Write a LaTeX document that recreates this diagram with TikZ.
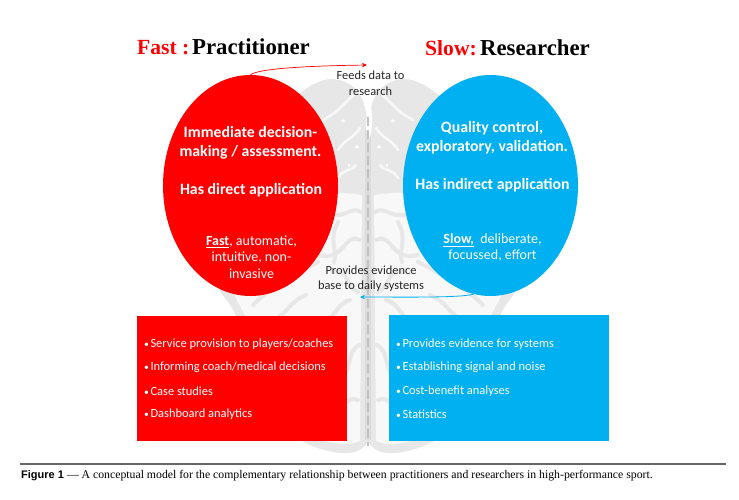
\documentclass[tikz,border=0pt]{standalone}
\usepackage{fontspec}
\setmainfont{Carlito}
\newfontfamily\headfont{Liberation Serif}
\newfontfamily\capfont{Liberation Serif}
\newfontfamily\figfont{Liberation Sans}
\usetikzlibrary{shapes.geometric}
\usetikzlibrary{arrows.meta}
\definecolor{fastred}{RGB}{255,0,0}
\definecolor{slowblue}{RGB}{0,176,240}
\definecolor{brainedge}{RGB}{231,231,231}
\definecolor{brainpale}{RGB}{248,248,248}
\newcommand{\dotmark}{{\fontsize{9.5}{9.5}\selectfont\textbullet}\kern1.6pt}
\newcommand{\redpart}[1]{\textcolor{fastred}{\fontsize{21.6}{24}\selectfont #1}}
\tikzset{
    circ/.style={ellipse,minimum width=175pt,minimum height=221pt,inner sep=0pt},
    boxed/.style={rectangle,anchor=north west,inner sep=0pt},
    head/.style={font=\headfont\fontsize{22.8}{24}\selectfont\bfseries,inner sep=0pt},
    claim/.style={text=white,align=center,inner sep=0pt,font=\fontsize{15.8}{19}\selectfont\bfseries},
    trait/.style={text=white,align=center,inner sep=0pt,font=\fontsize{14}{16.5}\selectfont},
    item/.style={text=white,anchor=west,inner sep=0pt,font=\fontsize{12.45}{14}\selectfont},
    note/.style={text=black!85,align=center,inner sep=0pt,font=\fontsize{12.4}{15.5}\selectfont},
    fold/.style={brainedge,line width=4pt,line cap=round},
    pale/.style={brainpale,line width=2.5pt,line cap=round},
    tip/.style={->,>={Stealth[length=5pt,width=4.5pt]}},
}
\begin{document}
\begin{tikzpicture}[x=1pt,y=-1pt]
\useasboundingbox (0,0) rectangle (739,499);
% brain behind everything
\foreach \s in {1,-1}{
\begin{scope}[shift={(368,0)},xscale=\s]
    \fill[brainedge] (0,128) .. controls (2,105) and (6,82) .. (35,79)
        .. controls (65,78) and (110,130) .. (140,180)
        .. controls (170,230) and (160,280) .. (139,303)
        .. controls (110,350) and (95,425) .. (66,441)
        .. controls (50,450) and (30,454) .. (20,453)
        .. controls (8,452) and (4,447) .. (0,442) -- cycle;
    \fill[brainpale] (6,195) .. controls (40,190) and (90,190) .. (124,220)
        .. controls (146,260) and (136,295) .. (128,306)
        .. controls (104,350) and (88,420) .. (60,434)
        .. controls (40,444) and (20,447) .. (8,441) -- cycle;
    \draw[fold] (7,212) .. controls (18,205) and (25,222) .. (45,212);
    \draw[fold] (8,240) .. controls (25,232) and (22,262) .. (50,255);
    \draw[fold] (30,222) .. controls (40,240) and (30,250) .. (34,262);
    \draw[fold] (10,292) .. controls (25,285) and (18,268) .. (35,272);
    \draw[fold] (50,262) .. controls (75,275) and (95,285) .. (115,305);
    \draw[fold] (18,300) .. controls (35,305) and (30,320) .. (50,322);
    \draw[fold] (62,295) .. controls (75,300) and (80,310) .. (90,318);
    \draw[fold] (8,345) .. controls (22,350) and (15,370) .. (28,380);
    \draw[fold] (10,400) .. controls (20,395) and (25,410) .. (40,405);
    \draw[pale] (8,128) .. controls (16,140) and (22,138) .. (30,150);
    \draw[pale] (12,165) .. controls (18,172) and (24,168) .. (30,178);
    \draw[pale] (14,95) .. controls (22,100) and (26,110) .. (45,120);
    \fill[white] (25,121) circle (1.8pt);
    \fill[white] (11,147) circle (1.8pt);
    \fill[white] (19,165) circle (1.5pt);
\end{scope}
}
\draw[brainedge!95!black,line width=6pt] (368,130) -- (368,440);
\fill[white] (368,112) .. controls (365,122) and (366,135) .. (369,140)
    .. controls (372,132) and (373,122) .. (371,105) -- cycle;
\draw[black!24,line width=1.5pt,dash pattern=on 9pt off 4pt] (368,117) -- (368,446);
% circles
\node[circ,fill=fastred] (fast) at (250.5,185.5) {};
\node[circ,fill=slowblue] (slow) at (490.5,185.5) {};
% boxes
\node[boxed,fill=fastred,minimum width=210pt,minimum height=125pt] (fastbox) at (137,316) {};
\node[boxed,fill=slowblue,minimum width=220.5pt,minimum height=126pt] (slowbox) at (388.5,315) {};
% titles
\node[head,anchor=west] (fasthead) at (137,47) {\redpart{Fast :}\kern-1.5pt\ \kern-1.5pt Practitioner};
\node[head,anchor=west] (slowhead) at (425,48) {\redpart{Slow:}\kern-1.2pt\ \kern-1.2pt Researcher};
% circle texts
\node[claim] (fastclaim) at (250.5,142.5) {Immediate decision-\\making / assessment.};
\node[claim] (fastapp) at (251,190) {Has direct application};
\node[trait] (fasttrait) at (251.5,257) {\underline{\textbf{Fast}}, automatic,\\intuitive, non-\\invasive};
\node[claim] (slowclaim) at (492,137.5) {Quality control,\\exploratory, validation.};
\node[claim] (slowapp) at (492.5,185) {Has indirect application};
\node[trait] (slowtrait) at (492.5,247.5) {\underline{\textbf{Slow,}}\ \ deliberate,\\focussed,\ effort};
% box texts
\node[item] (fastone) at (144,344) {\dotmark Service provision to players/coaches};
\node[item] (fasttwo) at (144,367.5) {\dotmark Informing coach/medical decisions};
\node[item] (fastthree) at (144,391) {\dotmark Case studies};
\node[item] (fastfour) at (144,414) {\dotmark Dashboard analytics};
\node[item] (slowone) at (396,344) {\dotmark Provides evidence for systems};
\node[item] (slowtwo) at (396,367) {\dotmark Establishing signal and noise};
\node[item] (slowthree) at (396,391) {\dotmark Cost-benefit analyses};
\node[item] (slowfour) at (396,414) {\dotmark Statistics};
% arrows
\node[note] (feeds) at (370.5,83) {Feeds data to\\research};
\node[note] (evidence) at (371,278.5) {Provides evidence\\base to daily systems};
\coordinate (feedsend) at (367,65);
\coordinate (evidenceend) at (360,297);
\draw[tip,fastred,line width=.7pt] (fast.north) .. controls (258,69) and (300,66) .. (feedsend);
\draw[tip,slowblue,line width=.8pt] (slow.south) ++(-17,-2) .. controls (460,298) and (400,297) .. (evidenceend);
% caption
\draw[black!60,line width=1.5pt] (20,464) -- (726,464);
\node[anchor=west,inner sep=0pt] (caption) at (21,476) {\figfont\fontsize{11}{12}\selectfont\bfseries Figure 1\ \capfont\mdseries\fontsize{11.75}{12}\selectfont — A conceptual model for the complementary relationship between practitioners and researchers in high-performance sport.};
\end{tikzpicture}
\end{document}
